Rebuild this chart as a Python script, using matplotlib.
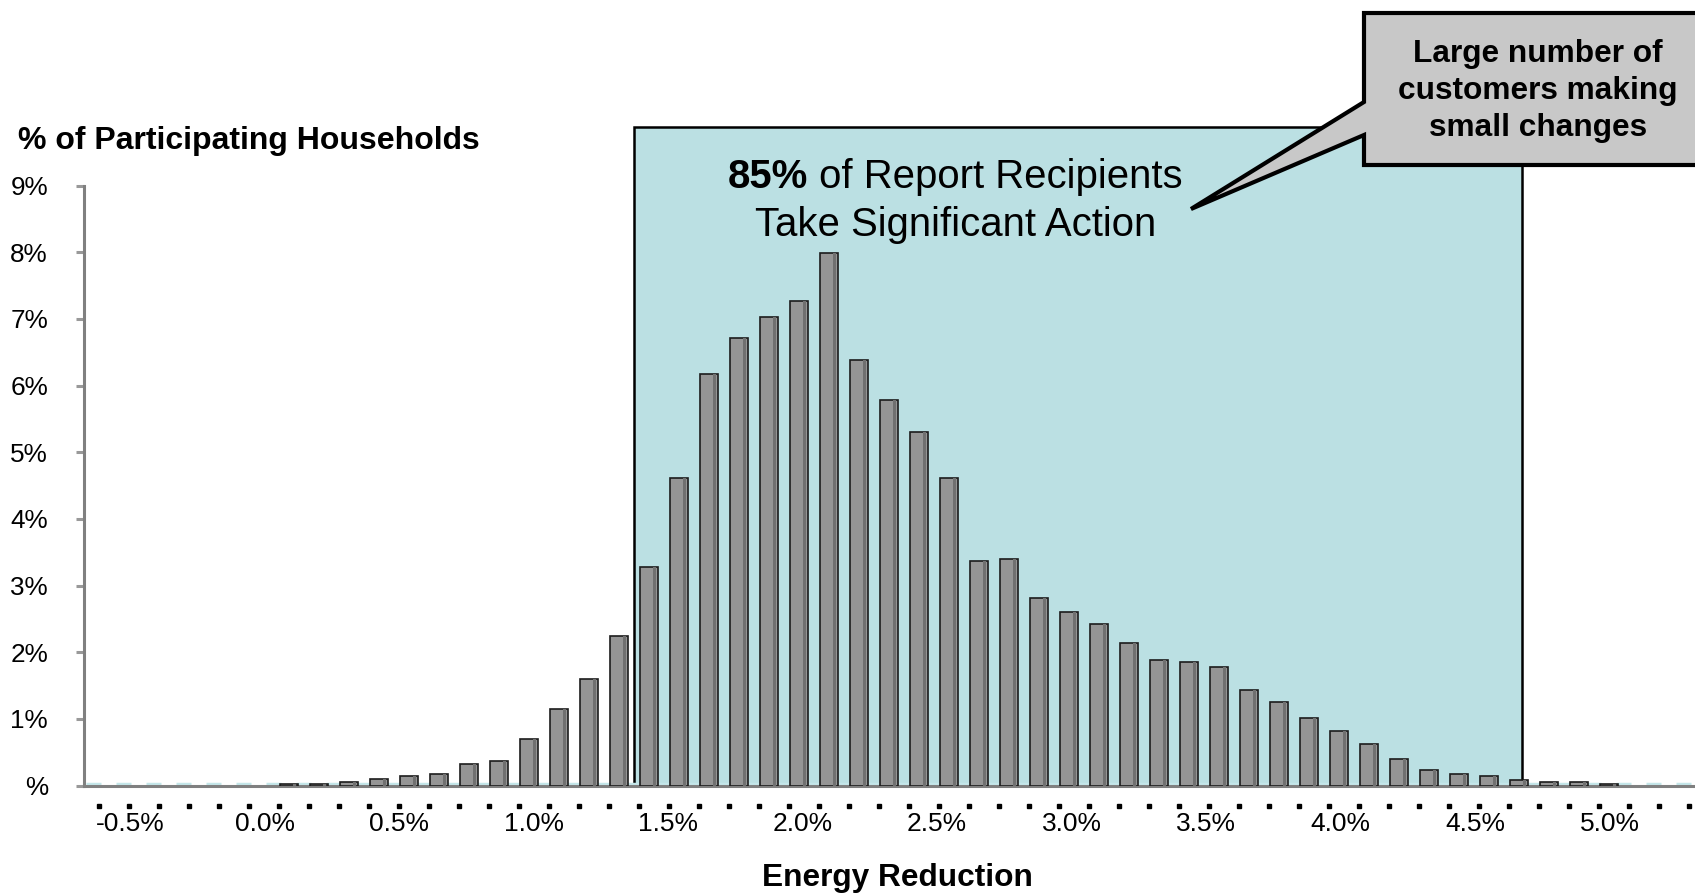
import numpy as np
import matplotlib
matplotlib.use("Agg")
import matplotlib.pyplot as plt
from matplotlib.patches import Rectangle, Polygon

plt.rcParams['font.family'] = ['Liberation Sans', 'DejaVu Sans']

# share of participating households (%) per energy-reduction bin
share = [0, 0, 0, 0, 0, 0, 0.02, 0.02, 0.06, 0.10, 0.14, 0.175, 0.33, 0.375,
         0.70, 1.15, 1.60, 2.24, 3.28, 4.61, 6.18, 6.72, 7.03, 7.27, 7.99,
         6.38, 5.79, 5.30, 4.62, 3.37, 3.40, 2.81, 2.61, 2.42, 2.14, 1.89,
         1.85, 1.78, 1.43, 1.26, 1.02, 0.82, 0.62, 0.40, 0.24, 0.18, 0.14,
         0.08, 0.06, 0.06, 0.02, 0, 0]
reduction_labels = ['-0.5%', '0.0%', '0.5%', '1.0%', '1.5%', '2.0%',
                    '2.5%', '3.0%', '3.5%', '4.0%', '4.5%', '5.0%']
y_labels = ['%', '1%', '2%', '3%', '4%', '5%', '6%', '7%', '8%', '9%']

# bins covered by the "significant action" band
band_first, band_last = 18, 47
band_top = 9.88

W, H = 1695, 894
def fx(px): return px / W
def fy(py): return 1 - py / H

fig = plt.figure(figsize=(W / 100, H / 100), dpi=100)
ax = fig.add_axes([fx(84), fy(785.5), 1 - fx(84), 600 / H])

x = np.arange(len(share))
vals = np.array(share)
ax.set_xlim(-0.817, 52.883)
ax.set_ylim(0, 9)

# shaded band behind the bars
band = Rectangle((band_first - 0.5, 0), band_last - band_first + 0.6, band_top,
                 facecolor='#bbe0e3', edgecolor='black', lw=1.8,
                 clip_on=False, zorder=1)
ax.add_patch(band)

# light floor dashes between bins
edges = np.append(x - 0.5, x[-1] + 0.5)
ax.hlines(np.full(len(edges), 0.03), edges - 0.25, edges + 0.25,
          color='#c4e6e9', lw=2.5, zorder=2)

nz = vals > 0
ax.bar(x[nz], vals[nz], width=0.6, color='#959595', edgecolor='#1c1c1c',
       linewidth=1.2, zorder=3)
ax.bar(x[nz] + 0.21, vals[nz], width=0.09, color='#707070', lw=0, zorder=3.2)

# small tick dots under the axis
ax.plot(np.arange(-1, len(share)) + 0.68, np.full(len(share) + 1, -0.31), 's',
        color='black', ms=2.2, clip_on=False, zorder=1)

for side in ['top', 'right']:
    ax.spines[side].set_visible(False)
for side in ['left', 'bottom']:
    ax.spines[side].set_color('#808080')
    ax.spines[side].set_linewidth(2.2)

ax.set_yticks(range(10))
ax.set_yticklabels(y_labels, fontsize=18.8)
ax.tick_params(axis='y', length=6, width=2.2, color='#999999', pad=20)

ax.set_xticks(0.72 + 4.483 * np.arange(len(reduction_labels)))
ax.set_xticklabels(reduction_labels, fontsize=19)
ax.tick_params(axis='x', length=0, pad=19.2)

fig.text(fx(18), fy(141), '% of Participating Households', fontsize=23,
         fontweight='bold', ha='left', va='center')
fig.text(fx(897), fy(878), 'Energy Reduction', fontsize=22.8,
         fontweight='bold', ha='center', va='center')

# band caption with bold lead-in
renderer = fig.canvas.get_renderer()
t1 = fig.text(0, fy(177), '85%', fontsize=28.9, fontweight='bold', va='center')
t2 = fig.text(0, fy(177), ' of Report Recipients', fontsize=28.9, va='center')
w1 = t1.get_window_extent(renderer).width
w2 = t2.get_window_extent(renderer).width
x0 = 955.6 - (w1 + w2) / 2
t1.set_x(fx(x0))
t2.set_x(fx(x0 + w1))
fig.text(fx(955.6), fy(225), 'Take Significant Action', fontsize=28.9,
         ha='center', va='center')

# callout box with pointer
callout = [(1364, 13), (1710, 13), (1710, 165), (1364, 165), (1364, 135),
           (1191, 209), (1364, 102)]
fig.patches.append(Polygon([(fx(a), fy(b)) for a, b in callout], closed=True,
                           facecolor='#c8c8c8', edgecolor='black', lw=3,
                           transform=fig.transFigure, figure=fig, zorder=5))
fig.text(fx(1538), fy(91), 'Large number of\ncustomers making\nsmall changes',
         fontsize=22.8, fontweight='bold', ha='center', va='center',
         linespacing=1.32, zorder=6)

fig.savefig('out.png', dpi=100)
